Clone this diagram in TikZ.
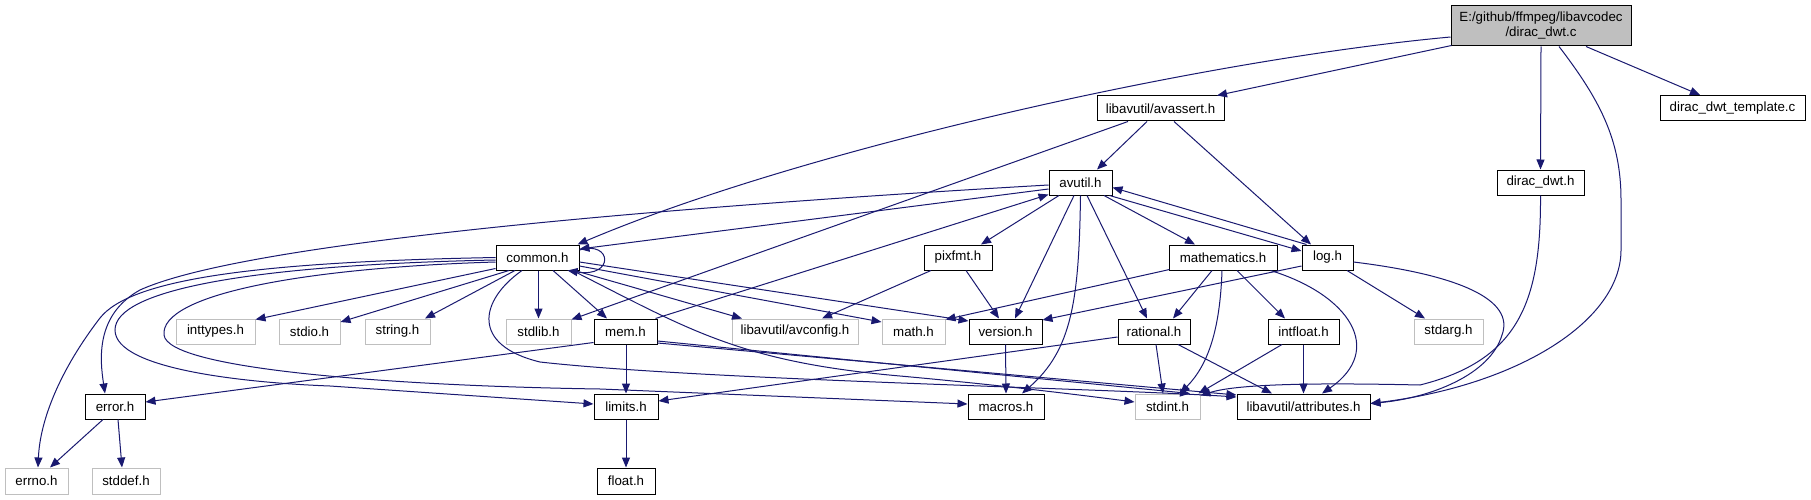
\documentclass[tikz,border=0pt]{standalone}
\usepackage{fontspec}
\setmainfont{Liberation Sans}
\usetikzlibrary{arrows.meta}
\definecolor{eblue}{HTML}{191970}
\definecolor{lgray}{HTML}{BFBFBF}
\definecolor{mgray}{HTML}{BFBFBF}
\newcommand\nodefont{\fontsize{13.3}{15}\selectfont}
\tikzset{
  nd/.style={draw=black, line width=1pt, fill=white, inner sep=0pt, minimum height=25pt, font=\nodefont},
  gn/.style={nd, draw=lgray},
  dep/.style={draw=eblue, line width=1pt, -{Triangle[length=10pt,width=8pt]}},
}
\begin{document}
\begin{tikzpicture}[x=1pt,y=-1pt]
\useasboundingbox (0,0) rectangle (1811,500);
\fill[white] (0,0) rectangle (1811,500);
% nodes
\node[nd, fill=mgray, minimum width=180pt, minimum height=40pt, align=center] (main) at (1541,26) {E:/github/ffmpeg/libavcodec\\/dirac\_dwt.c};
\node[nd, minimum width=127pt] (avassert) at (1160.5,108.5) {libavutil/avassert.h};
\node[nd, minimum width=87pt] (ddwth) at (1540.5,182.5) {dirac\_dwt.h};
\node[nd, minimum width=145pt] (tmpl) at (1732.5,108) {dirac\_dwt\_template.c};
\node[nd, minimum width=63pt] (avutil) at (1080.5,182.5) {avutil.h};
\node[nd, minimum width=83pt] (common) at (537.5,257.5) {common.h};
\node[nd, minimum width=68pt] (pixfmt) at (958,257.5) {pixfmt.h};
\node[nd, minimum width=108pt] (mathem) at (1223,257.5) {mathematics.h};
\node[nd, minimum width=51pt] (log) at (1327.5,257.5) {log.h};
\node[gn, minimum width=79pt] (inttypes) at (215.5,331.5) {inttypes.h};
\node[gn, minimum width=61pt] (stdio) at (309.5,331.5) {stdio.h};
\node[gn, minimum width=65pt] (string) at (397.5,331.5) {string.h};
\node[gn, minimum width=65pt] (stdlib) at (538.5,331.5) {stdlib.h};
\node[nd, minimum width=63pt] (mem) at (625.5,331.5) {mem.h};
\node[gn, minimum width=126pt] (avconfig) at (795,331.5) {libavutil/avconfig.h};
\node[gn, minimum width=63pt] (math) at (913.5,331.5) {math.h};
\node[nd, minimum width=73pt] (version) at (1005.5,331.5) {version.h};
\node[nd, minimum width=72pt] (rational) at (1154,331.5) {rational.h};
\node[nd, minimum width=71pt] (intfloat) at (1303.5,331.5) {intfloat.h};
\node[gn, minimum width=69pt] (stdarg) at (1448.5,331.5) {stdarg.h};
\node[nd, minimum width=60pt] (error) at (115,406.5) {error.h};
\node[nd, minimum width=64pt] (limits) at (626,406.5) {limits.h};
\node[nd, minimum width=76pt] (macros) at (1006,406.5) {macros.h};
\node[gn, minimum width=65pt] (stdint) at (1167.5,406.5) {stdint.h};
\node[nd, minimum width=133pt] (attrib) at (1303.5,406.5) {libavutil/attributes.h};
\node[gn, minimum width=63pt, minimum height=26pt] (errno) at (36.5,481) {errno.h};
\node[gn, minimum width=68pt, minimum height=26pt] (stddef) at (126,481) {stddef.h};
\node[nd, minimum width=58pt, minimum height=26pt] (float) at (626,481) {float.h};
% edges from main
\draw[dep] ([shift={(1,-1)}]main.south west) -- ([shift={(56.5,0)}]avassert.north);
\draw[dep] ([shift={(0,11)}]main.west) .. controls (1200,60) and (800,150) .. ([shift={(-2,0)}]common.north east);
\draw[dep] (main.south) -- (ddwth.north);
\draw[dep] ([shift={(45,0)}]main.south) -- ([shift={(-32.5,0)}]tmpl.north);
\draw[dep] ([shift={(18,0)}]main.south) .. controls (1600,100) and (1621,140) .. (1621,200) -- (1621,250) .. controls (1621,320) and (1520,385) .. ([shift={(0,-3)}]attrib.east);
% avassert
\draw[dep] ([shift={(-13.5,0)}]avassert.south) -- ([shift={(16.5,0)}]avutil.north);
\draw[dep] ([shift={(13.5,0)}]avassert.south) -- ([shift={(-16.5,0)}]log.north);
\draw[dep] ([shift={(-32.5,0)}]avassert.south) -- ([shift={(0,1)}]stdlib.north east);
% dirac_dwt.h
\draw[dep] (ddwth.south) .. controls (1541,300) and (1520,360) .. (1420,385) .. controls (1330,383) and (1240,383) .. ([shift={(0,2)}]stdint.north east);
% avutil
\draw[dep] ([shift={(0,6.5)}]avutil.west) -- ([shift={(0,-8.5)}]common.east);
\draw[dep] ([shift={(0,2.5)}]avutil.west) .. controls (700,205) and (250,240) .. (140,290) .. controls (95,315) and (100,360) .. ([shift={(-10,0)}]error.north);
\draw[dep] ([shift={(-21.5,0)}]avutil.south) -- ([shift={(23,0)}]pixfmt.north);
\draw[dep] ([shift={(-6.5,0)}]avutil.south) -- ([shift={(9.5,0)}]version.north);
\draw[dep] (avutil.south) .. controls (1079,300) and (1072,350) .. ([shift={(16,0)}]macros.north);
\draw[dep] ([shift={(6.5,0)}]avutil.south) -- ([shift={(-7,0)}]rational.north);
\draw[dep] ([shift={(23.5,0)}]avutil.south) -- ([shift={(-28,0)}]mathem.north);
\draw[dep] ([shift={(-3,0)}]avutil.south east) -- ([shift={(0,-6.5)}]log.west);
% log
\draw[dep] ([shift={(5,0)}]log.north west) -- ([shift={(0,5)}]avutil.east);
\draw[dep] ([shift={(0,8.5)}]log.west) -- ([shift={(0,-11.5)}]version.east);
\draw[dep] ([shift={(19.5,0)}]log.south) -- ([shift={(-23.5,0)}]stdarg.north);
\draw[dep] ([shift={(0,4.5)}]log.east) .. controls (1460,275) and (1515,300) .. (1502,335) .. controls (1490,375) and (1430,398) .. ([shift={(0,-3)}]attrib.east);
% common
\draw[dep] ([shift={(0,-7.5)}]common.east) .. controls (612,240) and (615,278) .. ([shift={(-12,0)}]common.south east);
\draw[dep] ([shift={(0,-2)}]common.south west) -- ([shift={(0,1)}]inttypes.north east);
\draw[dep] ([shift={(-28.5,0)}]common.south) -- ([shift={(0,-9.5)}]stdio.east);
\draw[dep] ([shift={(-22.5,0)}]common.south) -- ([shift={(27.5,0)}]string.north);
\draw[dep] ([shift={(1,0)}]common.south) -- (stdlib.north);
\draw[dep] ([shift={(15.5,0)}]common.south) -- ([shift={(-18.5,0)}]mem.north);
\draw[dep] ([shift={(-5,0)}]common.south east) -- ([shift={(-53,0)}]avconfig.north);
\draw[dep] ([shift={(0,8.5)}]common.east) -- ([shift={(0,-9.5)}]math.west);
\draw[dep] ([shift={(0,4.5)}]common.east) -- ([shift={(0,-10.5)}]version.west);
\draw[dep] ([shift={(-7,0)}]common.south east) .. controls (690,330) and (740,362) .. (900,376) .. controls (1000,385) and (1080,395) .. ([shift={(0,-4.5)}]stdint.west);
\draw[dep] ([shift={(-15.5,0)}]common.south) .. controls (480,300) and (470,345) .. (540,362) .. controls (700,380) and (1100,388) .. ([shift={(0,-9.5)}]attrib.west);
\draw[dep] (common.west) .. controls (250,262) and (130,280) .. (100,318) .. controls (60,370) and (40,420) .. ([shift={(1.5,0)}]errno.north);
\draw[dep] ([shift={(0,2.5)}]common.west) .. controls (250,265) and (115,290) .. (115,330) .. controls (115,370) and (250,383) .. (330,386) -- ([shift={(0,-2.5)}]limits.west);
\draw[dep] ([shift={(0,4.5)}]common.west) .. controls (300,268) and (160,295) .. (164,335) .. controls (168,370) and (400,386) .. (600,389) -- ([shift={(0,-2.5)}]macros.west);
% mem
\draw[dep] ([shift={(0,-2)}]mem.south west) -- ([shift={(0,-4.5)}]error.east);
\draw[dep] ([shift={(-2,0)}]mem.north east) -- ([shift={(0,-1)}]avutil.south west);
\draw[dep] ([shift={(0.5,0)}]mem.south) -- (limits.north);
\draw[dep] ([shift={(0,9.5)}]mem.east) -- ([shift={(22.5,0)}]stdint.north);
\draw[dep] ([shift={(0,11.5)}]mem.east) -- ([shift={(0,-11.5)}]attrib.west);
% lower
\draw[dep] (limits.south) -- (float.north);
\draw[dep] ([shift={(-12,0)}]error.south) -- ([shift={(13.5,0)}]errno.north);
\draw[dep] ([shift={(3,0)}]error.south) -- ([shift={(-4,0)}]stddef.north);
\draw[dep] ([shift={(-27,0)}]pixfmt.south) -- ([shift={(27,0)}]avconfig.north);
\draw[dep] ([shift={(8,0)}]pixfmt.south) -- ([shift={(-6.5,0)}]version.north);
\draw[dep] (version.south) -- (macros.north);
% mathematics
\draw[dep] ([shift={(1,-1)}]mathem.south west) -- ([shift={(0,1)}]math.north east);
\draw[dep] ([shift={(-11,0)}]mathem.south) -- ([shift={(19,0)}]rational.north);
\draw[dep] ([shift={(-1,0)}]mathem.south) .. controls (1220,330) and (1208,365) .. ([shift={(12.5,0)}]stdint.north);
\draw[dep] ([shift={(14,0)}]mathem.south) -- ([shift={(-18.5,0)}]intfloat.north);
\draw[dep] ([shift={(-7,0)}]mathem.south east) .. controls (1350,295) and (1385,350) .. ([shift={(18.5,0)}]attrib.north);
% rational
\draw[dep] ([shift={(0,5.5)}]rational.west) -- ([shift={(0,-5.5)}]limits.east);
\draw[dep] ([shift={(2,0)}]rational.south) -- ([shift={(-4.5,0)}]stdint.north);
\draw[dep] ([shift={(24,0)}]rational.south) -- ([shift={(-31.5,0)}]attrib.north);
% intfloat
\draw[dep] ([shift={(-21.5,0)}]intfloat.south) -- ([shift={(-2,0)}]stdint.north east);
\draw[dep] (intfloat.south) -- (attrib.north);
\end{tikzpicture}
\end{document}
